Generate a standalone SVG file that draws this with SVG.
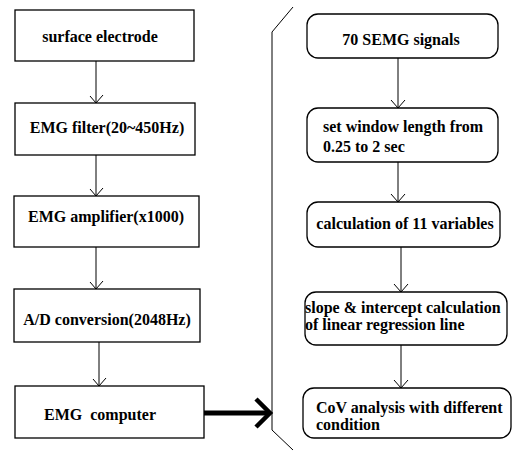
<svg xmlns="http://www.w3.org/2000/svg" width="512" height="453" viewBox="0 0 512 453">
<defs>
<style>
.box{fill:#fff;stroke:#000;stroke-width:1.3}
.t{font-family:"Liberation Serif","Times New Roman",serif;font-weight:bold;font-size:16px;fill:#000}
.c{text-anchor:middle}
.ln{stroke:#000;stroke-width:1;fill:none}
</style>
</defs>
<rect width="512" height="453" fill="#fff"/>
<g id="connectors">
<path class="ln" d="M96,61V103 M90,96L96,103L103,95"/>
<path class="ln" d="M96,155V196 M90,189L96,196L103,188"/>
<path class="ln" d="M96,247V289 M90,282L96,289L103,281"/>
<path class="ln" d="M99,342V386 M93,379L99,386L106,378"/>
<path class="ln" d="M398,58V108 M391,100L398,108L405,100"/>
<path class="ln" d="M398,162V202 M391,194L398,202L405,194"/>
<path class="ln" d="M401,247V292 M394,284L401,292L408,284"/>
<path class="ln" d="M401,345V388 M394,380L401,388L408,380"/>
<path d="M204,413H268" stroke="#000" stroke-width="5" fill="none"/>
<path d="M256,399L270,413L256,427" stroke="#000" stroke-width="4.5" fill="none"/>
<path class="ln" d="M293,7L272,32V430L293,450"/>
</g>
<g id="n1"><rect class="box" x="15" y="10" width="179" height="51"/><text class="t c" x="100" y="42">surface electrode</text></g>
<g id="n2"><rect class="box" x="15" y="103" width="180" height="52"/><text class="t c" x="107" y="133">EMG filter(20~450Hz)</text></g>
<g id="n3"><rect class="box" x="14" y="196" width="185" height="51"/><text class="t c" x="106" y="222">EMG amplifier(x1000)</text></g>
<g id="n4"><rect class="box" x="14" y="289" width="186" height="53"/><text class="t c" x="107" y="325">A/D conversion(2048Hz)</text></g>
<g id="n5"><rect class="box" x="15" y="386" width="189" height="52"/><text class="t c" x="100" y="420" xml:space="preserve">EMG  computer</text></g>
<g id="r1"><rect class="box" x="307" y="14" width="191" height="44" rx="11"/><text class="t c" x="401" y="45">70 SEMG signals</text></g>
<g id="r2"><rect class="box" x="307" y="108" width="191" height="54" rx="11"/><text class="t" x="323" y="132">set window length from</text><text class="t" x="323" y="152">0.25 to 2 sec</text></g>
<g id="r3"><rect class="box" x="307" y="202" width="193" height="45" rx="11"/><text class="t c" x="405" y="229">calculation of 11 variables</text></g>
<g id="r4"><rect class="box" x="305" y="292" width="202" height="53" rx="11"/><text class="t" x="305" y="313">slope &amp; intercept calculation</text><text class="t" x="305" y="330">of linear regression line</text></g>
<g id="r5"><rect class="box" x="303" y="388" width="208" height="50" rx="11"/><text class="t" x="316" y="413">CoV analysis with different</text><text class="t" x="316" y="430">condition</text></g>
</svg>
